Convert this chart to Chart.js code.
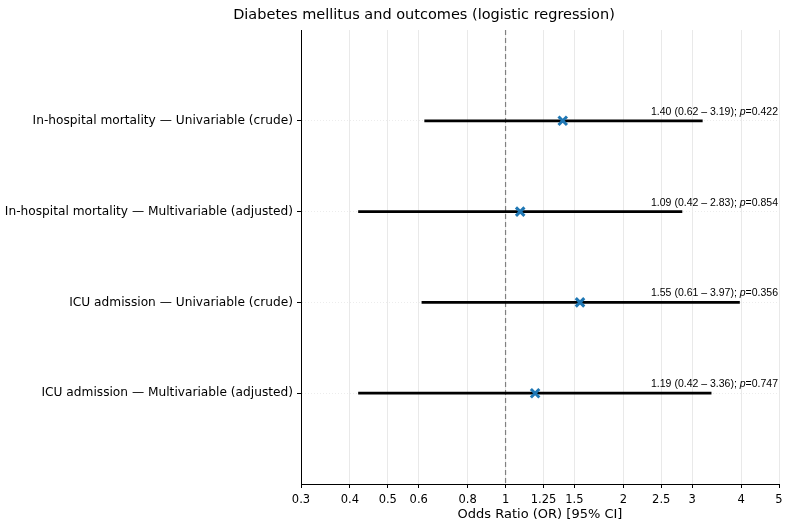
<!DOCTYPE html>
<html>
<head>
<meta charset="utf-8">
<script src="https://cdn.jsdelivr.net/npm/chart.js@4.4.0/dist/chart.umd.min.js"></script>
<style>
  html, body { margin: 0; padding: 0; background: #fff; }
  #wrap { width: 789px; height: 530px; }
</style>
</head>
<body>
<div id="wrap"><canvas id="forest" width="789" height="530"></canvas></div>
<script>
const chartTitle = 'Diabetes mellitus and outcomes (logistic regression)';
const categories = [
  'In-hospital mortality — Univariable (crude)',
  'In-hospital mortality — Multivariable (adjusted)',
  'ICU admission — Univariable (crude)',
  'ICU admission — Multivariable (adjusted)'
];
const oddsRatios = [1.40, 1.09, 1.55, 1.19];
const ciLow = [0.62, 0.42, 0.61, 0.42];
const ciHigh = [3.19, 2.83, 3.97, 3.36];
const pValues = ['0.422', '0.854', '0.356', '0.747'];
const xTicks = [0.3, 0.4, 0.5, 0.6, 0.8, 1, 1.25, 1.5, 2, 2.5, 3, 4, 5];

const FONT = "'DejaVu Sans', sans-serif";
const NOTE_FONT = "'Liberation Sans', Arial, sans-serif";
const NOTE_SIZE = 10.5;

// one line per row for the 95% CI
const ciSets = categories.map(function (c, i) {
  return {
    type: 'line',
    data: [{ x: ciLow[i], y: i }, { x: ciHigh[i], y: i }],
    borderColor: '#000',
    borderWidth: 2.8,
    pointRadius: 0,
    order: 2
  };
});

const refLine = {
  type: 'line',
  data: [{ x: 1, y: -1 }, { x: 1, y: 4 }],
  borderColor: '#808080',
  borderWidth: 1.2,
  borderDash: [5, 3],
  pointRadius: 0,
  order: 3
};

const points = {
  type: 'scatter',
  data: oddsRatios.map(function (v, i) { return { x: v, y: i }; }),
  pointStyle: 'crossRot',
  pointRadius: 6,
  borderWidth: 3,
  borderColor: '#1f77b4',
  backgroundColor: '#1f77b4',
  order: 1
};

const labelPlugin = {
  id: 'ciLabels',
  afterDraw: function (chart) {
    const ctx = chart.ctx;
    const yScale = chart.scales.y;
    const right = chart.chartArea.right - 1;
    ctx.save();
    ctx.fillStyle = '#000';

    // title, centred where the original sits
    ctx.font = '14.5px ' + FONT;
    ctx.textAlign = 'center';
    ctx.textBaseline = 'middle';
    ctx.fillText(chartTitle, 424, 15);

    ctx.textBaseline = 'alphabetic';
    ctx.textAlign = 'left';
    const plain = NOTE_SIZE + 'px ' + NOTE_FONT;
    const italic = 'italic ' + NOTE_SIZE + 'px ' + NOTE_FONT;
    categories.forEach(function (c, i) {
      const y = yScale.getPixelForValue(i) - 6;
      const head = oddsRatios[i].toFixed(2) + ' (' + ciLow[i].toFixed(2) + ' – ' + ciHigh[i].toFixed(2) + '); ';
      const tail = '=' + pValues[i];
      ctx.font = plain;
      const wHead = ctx.measureText(head).width;
      const wTail = ctx.measureText(tail).width;
      ctx.font = italic;
      const wP = ctx.measureText('p').width;
      let x = right - wHead - wP - wTail;
      ctx.font = plain;
      ctx.fillText(head, x, y);
      x += wHead;
      ctx.font = italic;
      ctx.fillText('p', x, y);
      x += wP;
      ctx.font = plain;
      ctx.fillText(tail, x, y);
    });
    ctx.restore();
  }
};

new Chart(document.getElementById('forest'), {
  data: { datasets: [points].concat(ciSets, [refLine]) },
  options: {
    responsive: false,
    animation: false,
    events: [],
    layout: { padding: { left: 0, right: 10, top: 30, bottom: 0 } },
    plugins: {
      legend: { display: false },
      tooltip: { enabled: false },
      title: { display: false }
    },
    scales: {
      x: {
        type: 'logarithmic',
        min: 0.3,
        max: 5,
        afterBuildTicks: function (scale) {
          scale.ticks = xTicks.map(function (v) { return { value: v }; });
        },
        afterFit: function (scale) { scale.height = 46; },
        ticks: {
          autoSkip: false,
          maxRotation: 0,
          color: '#000',
          padding: 5,
          font: { family: FONT, size: 11.5 },
          callback: function (v) { return String(v); }
        },
        grid: { color: '#e9e9e9', lineWidth: 1, tickColor: '#000', tickLength: 4 },
        border: { color: '#000', width: 1 },
        title: {
          display: true,
          text: 'Odds Ratio (OR) [95% CI]',
          color: '#000',
          font: { family: FONT, size: 13 },
          padding: { top: 0, bottom: 8 }
        }
      },
      y: {
        type: 'linear',
        min: -1,
        max: 4,
        reverse: true,
        afterBuildTicks: function (scale) {
          scale.ticks = categories.map(function (c, i) { return { value: i }; });
        },
        afterFit: function (scale) { scale.width = 301; },
        ticks: {
          color: '#000',
          padding: 4,
          font: { family: FONT, size: 12.2 },
          callback: function (v) { return categories[v]; }
        },
        grid: { color: '#ececec', lineWidth: 1, tickColor: '#000', tickLength: 4, tickBorderDash: [] },
        border: { color: '#000', width: 1, dash: [1, 2] }
      }
    }
  },
  plugins: [labelPlugin]
});
</script>
</body>
</html>
